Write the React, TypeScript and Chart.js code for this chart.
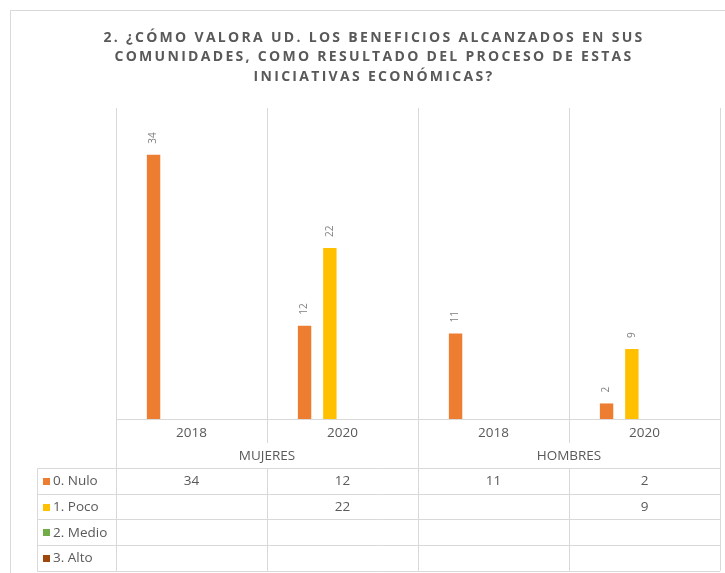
import React, { useEffect, useRef } from "react";
import { Chart, registerables } from "chart.js";

Chart.register(...registerables);

const titleLines = [
  "2. ¿CÓMO VALORA UD. LOS BENEFICIOS ALCANZADOS EN SUS",
  "COMUNIDADES, COMO RESULTADO DEL PROCESO DE ESTAS",
  "INICIATIVAS ECONÓMICAS?",
];
const categories = ["2018", "2020", "2018", "2020"];
const groups = ["MUJERES", "HOMBRES"];
const seriesNames = ["0. Nulo", "1. Poco", "2. Medio", "3. Alto"];
const nulo: (number | null)[] = [34, 12, 11, 2];
const poco: (number | null)[] = [null, 22, null, 9];
const medio: (number | null)[] = [null, null, null, null];
const alto: (number | null)[] = [null, null, null, null];
const seriesColors = ["#ED7D31", "#FFC000", "#70AD47", "#9E480E"];

const GRID = "#D9D9D9";
const TEXT = "#595959";
const FONT = "'Open Sans', 'Liberation Sans', sans-serif";

const excelPlugin = {
  id: "excelLayout",
  beforeDraw(chart: any) {
    const ctx = chart.ctx;
    ctx.save();
    ctx.fillStyle = "#FFFFFF";
    ctx.fillRect(0, 0, chart.width, chart.height);
    ctx.strokeStyle = GRID;
    ctx.lineWidth = 1;
    ctx.strokeRect(10.5, 10.5, chart.width + 20, chart.height + 20);
    ctx.restore();
  },
  beforeDatasetsDraw(chart: any) {
    const ctx = chart.ctx;
    const xs = chart.scales.x;
    const area = chart.chartArea;
    const n = categories.length;
    const catW = (xs.right - xs.left) / n;
    const rowH = 25.7;
    const tableTop = area.bottom + 49;
    const tableBottom = tableTop + rowH * seriesNames.length;
    const tickBottom = area.bottom + 24;
    ctx.save();
    ctx.strokeStyle = GRID;
    ctx.lineWidth = 1;
    for (let i = 0; i <= n; i++) {
      const x = Math.round(xs.getPixelForValue(0) - catW / 2 + i * catW) + 0.5;
      ctx.beginPath();
      if (i % 2 === 0) {
        ctx.moveTo(x, area.top);
        ctx.lineTo(x, tableBottom);
      } else {
        ctx.moveTo(x, area.top);
        ctx.lineTo(x, tickBottom);
        ctx.moveTo(x, tableTop);
        ctx.lineTo(x, tableBottom);
      }
      ctx.stroke();
    }
    const by = Math.round(area.bottom) + 0.5;
    ctx.beginPath();
    ctx.moveTo(area.left, by);
    ctx.lineTo(area.right, by);
    ctx.stroke();
    const tLeft = 37.5;
    for (let r = 0; r <= seriesNames.length; r++) {
      const y = Math.round(tableTop + r * rowH) + 0.5;
      ctx.beginPath();
      ctx.moveTo(tLeft, y);
      ctx.lineTo(area.right, y);
      ctx.stroke();
    }
    ctx.beginPath();
    ctx.moveTo(tLeft, Math.round(tableTop) + 0.5);
    ctx.lineTo(tLeft, Math.round(tableBottom) + 0.5);
    ctx.stroke();
    ctx.restore();
  },
  afterDatasetsDraw(chart: any) {
    const ctx = chart.ctx;
    ctx.save();
    ctx.fillStyle = "#7F7F7F";
    ctx.font = `10px ${FONT}`;
    chart.data.datasets.forEach((ds: any, di: number) => {
      const meta = chart.getDatasetMeta(di);
      meta.data.forEach((el: any, i: number) => {
        const v = ds.data[i];
        if (v === null || v === undefined) return;
        ctx.save();
        ctx.translate(el.x, el.y - 11);
        ctx.rotate(-Math.PI / 2);
        ctx.textAlign = "left";
        ctx.textBaseline = "middle";
        ctx.fillText(String(v), 0, 0);
        ctx.restore();
      });
    });
    ctx.restore();
  },
  afterDraw(chart: any) {
    const ctx = chart.ctx;
    const xs = chart.scales.x;
    const area = chart.chartArea;
    const rowH = 25.7;
    const tableTop = area.bottom + 49;
    ctx.save();
    ctx.fillStyle = TEXT;
    ctx.font = `bold 14px ${FONT}`;
    (ctx as any).letterSpacing = "2.3px";
    ctx.textAlign = "center";
    ctx.textBaseline = "middle";
    titleLines.forEach((line, i) => {
      ctx.fillText(line, 374, 38 + i * 19.5);
    });
    (ctx as any).letterSpacing = "0px";
    ctx.font = `13.5px ${FONT}`;
    ctx.fillStyle = TEXT;
    categories.forEach((c, i) => {
      ctx.fillText(c, xs.getPixelForValue(i), area.bottom + 14);
    });
    groups.forEach((g, gi) => {
      const cx = (xs.getPixelForValue(gi * 2) + xs.getPixelForValue(gi * 2 + 1)) / 2;
      ctx.fillText(g, cx, area.bottom + 37);
    });
    const seriesData = [nulo, poco, medio, alto];
    seriesNames.forEach((name, r) => {
      const cy = tableTop + r * rowH + rowH / 2 + 0.5;
      ctx.fillStyle = seriesColors[r];
      ctx.fillRect(43, Math.round(cy - 3.5), 7, 7);
      ctx.fillStyle = TEXT;
      ctx.textAlign = "left";
      ctx.fillText(name, 53, cy);
      ctx.textAlign = "center";
      seriesData[r].forEach((v, i) => {
        if (v === null || v === undefined) return;
        ctx.fillText(String(v), xs.getPixelForValue(i), cy);
      });
    });
    ctx.restore();
  },
};

export default function App() {
  const canvasRef = useRef<HTMLCanvasElement | null>(null);

  useEffect(() => {
    if (!canvasRef.current) return;
    const seriesData = [nulo, poco, medio, alto];
    const chart = new Chart(canvasRef.current, {
      type: "bar",
      data: {
        labels: categories,
        datasets: seriesNames.map((name, i) => ({
          label: name,
          data: seriesData[i],
          backgroundColor: seriesColors[i],
          borderWidth: 0,
          categoryPercentage: 0.67,
          barPercentage: 0.53,
        })),
      },
      options: {
        responsive: false,
        animation: false,
        layout: { padding: { left: 116, right: 5, top: 108, bottom: 154 } },
        plugins: {
          legend: { display: false },
          tooltip: { enabled: false },
          title: { display: false },
        },
        scales: {
          x: { display: false, offset: true },
          y: { display: false, min: 0, max: 40 },
        },
      },
      plugins: [excelPlugin],
    });
    return () => chart.destroy();
  }, []);

  return (
    <div style={{ position: "fixed", left: 0, top: 0, width: 725, height: 573, background: "#fff" }}>
      <canvas ref={canvasRef} width={725} height={573} style={{ display: "block" }} />
    </div>
  );
}
